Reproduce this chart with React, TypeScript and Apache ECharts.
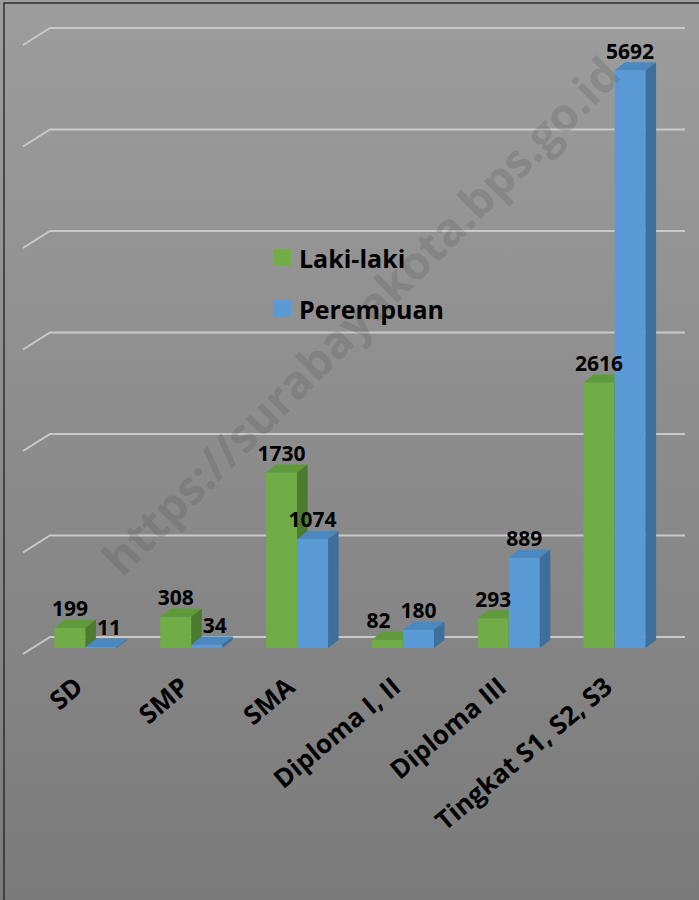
import React, { useEffect, useRef } from "react";
import * as echarts from "echarts";

// ---- data ----
const categories = ["SD", "SMP", "SMA", "Diploma I, II", "Diploma III", "Tingkat S1, S2, S3"];
const lakiLaki = [199, 308, 1730, 82, 293, 2616];
const perempuan = [11, 34, 1074, 180, 889, 5692];
const seriesNames = ["Laki-laki", "Perempuan"];
const gridTicks = [0, 1000, 2000, 3000, 4000, 5000, 6000];
const axisMin = 0;
const axisMax = 6000;
const axisInterval = 1000;
const watermarkText = "https://surabayakota.bps.go.id";

// ---- style ----
const FONT = "'Open Sans', 'Noto Sans', sans-serif";
const DEPTH_DX = 10.5;
const DEPTH_DY = -8;
const WALL_DX = -27;
const WALL_DY = 17;
const BAR_RATIO = 0.293;
const COLORS = [
  { front: "#70ad47", top: "#5f9a3b", side: "#4b7b2e" },
  { front: "#5b9bd5", top: "#4b87c0", side: "#3d6e9c" },
];

function barGeom(side: number, api: any) {
  const i = api.value(0);
  const v = api.value(1);
  const base = api.coord([i, 0]);
  const top = api.coord([i, v]);
  const band = api.size([1, 0])[0];
  const w = band * BAR_RATIO;
  const x0 = side === 0 ? base[0] - w : base[0];
  return { i, v, x0, w, yb: base[1], yt: top[1] };
}

function makeBarRender(side: number) {
  return (params: any, api: any) => {
    const { x0, w, yb, yt } = barGeom(side, api);
    const c = COLORS[side];
    return {
      type: "group",
      children: [
        {
          type: "rect",
          shape: { x: x0, y: yt, width: w, height: Math.max(yb - yt, 0.8) },
          style: { fill: c.front },
        },
        {
          type: "polygon",
          shape: {
            points: [
              [x0, yt],
              [x0 + DEPTH_DX, yt + DEPTH_DY],
              [x0 + w + DEPTH_DX, yt + DEPTH_DY],
              [x0 + w, yt],
            ],
          },
          style: { fill: c.top },
        },
        {
          type: "polygon",
          shape: {
            points: [
              [x0 + w, yt],
              [x0 + w + DEPTH_DX, yt + DEPTH_DY],
              [x0 + w + DEPTH_DX, yb + DEPTH_DY],
              [x0 + w, yb],
            ],
          },
          style: { fill: c.side },
        },
      ],
    };
  };
}

function makeLabelRender(side: number, values: number[], others: number[]) {
  return (params: any, api: any) => {
    const { i, v, x0, w, yt } = barGeom(side, api);
    const other = others[i];
    let shift = 0;
    if (Math.abs(v - other) < 300 && v < other) shift = side === 0 ? -9 : 8;
    return {
      type: "text",
      style: {
        text: String(values[i]),
        x: x0 + w / 2 + shift,
        y: yt + DEPTH_DY - 11.5,
        fill: "#000",
        fontSize: 21,
        fontWeight: "bold",
        fontFamily: FONT,
        align: "center",
        verticalAlign: "middle",
      },
    };
  };
}

export default function App() {
  const ref = useRef<HTMLDivElement>(null);
  useEffect(() => {
    if (!ref.current) return;
    const chart = echarts.init(ref.current, undefined, { renderer: "svg" });
    const option: any = {
      animation: false,
      backgroundColor: "transparent",
      grid: [
        { left: 50, right: 14, top: 28, bottom: 263, containLabel: false },
        { left: 32.5, right: 31.5, top: 39, bottom: 252, containLabel: false },
        { left: 25.5, right: 38.5, top: 39, bottom: 252, containLabel: false },
      ],
      xAxis: [
        { gridIndex: 0, type: "value", min: 0, max: categories.length, show: false },
        { gridIndex: 1, type: "category", data: categories, show: false },
        {
          gridIndex: 2,
          type: "category",
          data: categories,
          axisLine: { show: false },
          axisTick: { show: false },
          splitLine: { show: false },
          axisLabel: {
            interval: 0,
            rotate: 40,
            margin: 34,
            fontSize: 26,
            fontWeight: "bold",
            fontFamily: FONT,
            color: "#000",
          },
        },
      ],
      yAxis: [
        { gridIndex: 0, type: "value", min: axisMin, max: axisMax, interval: axisInterval, show: false },
        { gridIndex: 1, type: "value", min: axisMin, max: axisMax, interval: axisInterval, show: false },
        { gridIndex: 2, type: "value", min: axisMin, max: axisMax, interval: axisInterval, show: false },
      ],
      legend: {
        orient: "vertical",
        left: 273,
        top: 245,
        padding: 0,
        itemWidth: 18,
        itemHeight: 17,
        itemGap: 26,
        icon: "rect",
        data: seriesNames,
        textStyle: {
          fontSize: 25,
          lineHeight: 25,
          fontWeight: "bold",
          fontFamily: FONT,
          color: "#000",
          padding: [0, 0, 0, 3],
        },
        selectedMode: false,
      },
      series: [
        {
          type: "custom",
          name: "grid",
          xAxisIndex: 0,
          yAxisIndex: 0,
          silent: true,
          z: 1,
          data: gridTicks.map((v) => [0, v]),
          renderItem: (params: any, api: any) => {
            const v = api.value(1);
            const l = api.coord([0, v]);
            const r = api.coord([categories.length, v]);
            return {
              type: "polyline",
              shape: {
                points: [
                  [r[0], r[1]],
                  [l[0], l[1]],
                  [l[0] + WALL_DX, l[1] + WALL_DY],
                ],
              },
              style: { stroke: "#c9c9c9", lineWidth: 2, fill: null },
            };
          },
        },
        {
          type: "custom",
          name: seriesNames[0],
          xAxisIndex: 1,
          yAxisIndex: 1,
          z: 2,
          itemStyle: { color: COLORS[0].front },
          data: lakiLaki.map((v, i) => [i, v]),
          renderItem: makeBarRender(0),
        },
        {
          type: "custom",
          name: seriesNames[1],
          xAxisIndex: 1,
          yAxisIndex: 1,
          z: 3,
          itemStyle: { color: COLORS[1].front },
          data: perempuan.map((v, i) => [i, v]),
          renderItem: makeBarRender(1),
        },
        {
          type: "custom",
          name: "labels-l",
          xAxisIndex: 1,
          yAxisIndex: 1,
          z: 5,
          silent: true,
          data: lakiLaki.map((v, i) => [i, v]),
          renderItem: makeLabelRender(0, lakiLaki, perempuan),
        },
        {
          type: "custom",
          name: "labels-p",
          xAxisIndex: 1,
          yAxisIndex: 1,
          z: 5,
          silent: true,
          data: perempuan.map((v, i) => [i, v]),
          renderItem: makeLabelRender(1, perempuan, lakiLaki),
        },
      ],
      graphic: [
        {
          type: "polyline",
          shape: { points: [[4, 900], [4, 3], [699, 3]] },
          style: { stroke: "#2e2e2e", lineWidth: 1.5, fill: null },
          z: 100,
          silent: true,
        },
        {
          type: "text",
          x: 360,
          y: 315,
          rotation: Math.PI / 4,
          style: {
            text: watermarkText,
            fontSize: 46,
            fontWeight: "bold",
            fontFamily: FONT,
            fill: "rgba(70,70,70,0.2)",
            align: "center",
            verticalAlign: "middle",
          },
          z: 50,
          silent: true,
        },
      ],
    };
    chart.setOption(option);
    return () => chart.dispose();
  }, []);
  return (
    <div
      ref={ref}
      style={{
        position: "fixed",
        left: 0,
        top: 0,
        width: 699,
        height: 900,
        background: "linear-gradient(#9d9d9d, #7b7b7b)",
      }}
    />
  );
}
